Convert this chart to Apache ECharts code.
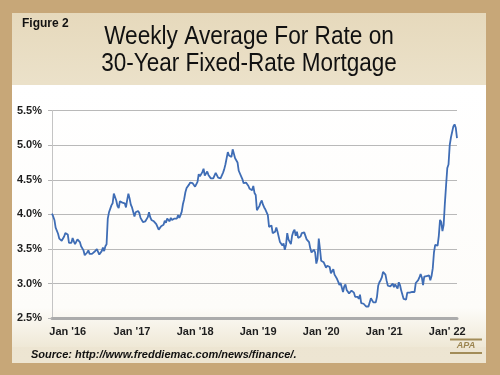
<!DOCTYPE html>
<html>
<head>
<meta charset="utf-8">
<style>html,body{margin:0;padding:0;background:#c7a778;}#chart{width:500px;height:375px;}</style>
<script src="https://cdn.jsdelivr.net/npm/echarts@6/dist/echarts.min.js"></script>
</head>
<body>
<div id="chart"></div>
<script>
// Weekly 30-year fixed rate (%), starting week of Dec 31 2015
const rates2015 = [4.01];
const rates2016 = [3.97,3.92,3.81,3.79, 3.72,3.65,3.65,3.62, 3.64,3.68,3.73,3.71,3.71, 3.59,3.58,3.59,3.66, 3.61,3.57,3.58,3.64, 3.66,3.60,3.54,3.56,3.48, 3.41,3.42,3.45,3.48, 3.43,3.45,3.43,3.43, 3.46,3.44,3.50,3.48,3.42, 3.42,3.47,3.52,3.47, 3.54,3.57,3.94,4.03, 4.08,4.13,4.16,4.30,4.32];
const rates2017 = [4.20,4.12,4.09,4.19, 4.19,4.17,4.15,4.16, 4.10,4.21,4.30,4.23,4.14, 4.10,4.08,3.97,4.03, 4.02,4.05,4.02,3.95, 3.94,3.89,3.91,3.90,3.88, 3.96,4.03,3.96,3.92, 3.93,3.90,3.89,3.86,3.82, 3.78,3.78,3.83,3.83, 3.85,3.91,3.88,3.94, 3.94,3.90,3.95,3.92,3.90, 3.94,3.93,3.94,3.99];
const rates2018 = [3.95,3.99,4.04,4.15, 4.22,4.32,4.38,4.40, 4.43,4.46,4.44,4.45,4.44, 4.40,4.42,4.47,4.58, 4.55,4.55,4.61,4.66,4.56, 4.54,4.62,4.57,4.55, 4.52,4.53,4.52,4.54, 4.60,4.59,4.53,4.51,4.52, 4.54,4.60,4.65,4.72, 4.71,4.90,4.85,4.86, 4.83,4.94,4.94,4.81,4.81, 4.75,4.63,4.62,4.55];
const rates2019 = [4.51,4.45,4.45,4.46,4.46, 4.41,4.37,4.35,4.35, 4.41,4.31,4.28,4.06, 4.08,4.12,4.17,4.20, 4.14,4.10,4.07,4.06,3.99, 3.82,3.82,3.84,3.73, 3.75,3.75,3.81,3.75, 3.75,3.60,3.60,3.55,3.58, 3.49,3.56,3.73,3.64, 3.65,3.57,3.69,3.75,3.78, 3.69,3.75,3.66,3.68, 3.68,3.73,3.73,3.74];
const rates2020 = [3.72,3.64,3.65,3.60,3.51, 3.45,3.47,3.49,3.45, 3.29,3.36,3.65,3.50, 3.33,3.33,3.31,3.33,3.23, 3.26,3.28,3.24,3.15, 3.18,3.21,3.13,3.13, 3.07,3.03,2.98,3.01,2.99, 2.88,2.96,2.99,2.91, 2.93,2.86,2.87,2.90, 2.88,2.87,2.81,2.80,2.81, 2.78,2.84,2.72,2.72, 2.71,2.71,2.67,2.66,2.67];
const rates2021 = [2.65,2.79,2.77,2.73, 2.73,2.73,2.81,2.97, 3.02,3.05,3.09,3.17, 3.18,3.13,3.04,2.97,2.98, 2.96,2.94,3.00,2.95, 2.99,2.96,2.93,3.02, 2.98,2.90,2.88,2.78,2.80, 2.77,2.87,2.86,2.87, 2.87,2.88,2.86,2.88,3.01, 2.99,3.05,3.09,3.14, 3.09,2.98,3.10,3.10, 3.11,3.10,3.12,3.05,3.11];
const rates2022 = [3.22,3.45,3.56,3.55, 3.55,3.69,3.92,3.89, 3.76,3.85,4.16,4.42,4.67, 4.72,5.00,5.11,5.10, 5.27,5.30,5.25,5.10];

const xTickLabels = ["Jan '16","Jan '17","Jan '18","Jan '19","Jan '20","Jan '21","Jan' 22"];
const xTickIndex = [13, 66, 118, 170, 222, 274, 326];
const yTicks = [2.5, 3.0, 3.5, 4.0, 4.5, 5.0, 5.5];

const rates = [].concat(rates2015, rates2016, rates2017, rates2018, rates2019, rates2020, rates2021, rates2022);
const weeks = [];
const start = Date.UTC(2015, 11, 31);
for (let i = 0; i < rates.length; i++) {
  const d = new Date(start + i * 7 * 86400000);
  weeks.push(d.toISOString().slice(0, 10));
}

const chart = echarts.init(document.getElementById('chart'), null, {renderer: 'canvas'});
const option = {
  animation: false,
  backgroundColor: '#c7a778',
  grid: {left: 52, right: 43, top: 110.5, bottom: 56.7, containLabel: false},
  xAxis: {
    type: 'category',
    data: weeks,
    boundaryGap: false,
    axisLine: {show: true, lineStyle: {color: '#ababab', width: 3}},
    axisTick: {show: false},
    splitLine: {show: false},
    axisLabel: {
      interval: function (idx) { return xTickIndex.indexOf(idx) >= 0; },
      formatter: function (v, idx) { const k = xTickIndex.indexOf(idx); return k >= 0 ? xTickLabels[k] : ''; },
      hideOverlap: false,
      margin: 8,
      color: '#1e1e1e', fontFamily: 'Liberation Sans, Arial, sans-serif', fontWeight: 'bold', fontSize: 11
    }
  },
  yAxis: {
    type: 'value',
    min: yTicks[0], max: yTicks[yTicks.length - 1], interval: 0.5,
    axisLine: {show: true, lineStyle: {color: '#c4c4c4', width: 1}},
    axisTick: {show: true, length: 4, lineStyle: {color: '#b5b5b5'}},
    splitLine: {show: true, lineStyle: {color: '#b9b9b9', width: 1}},
    axisLabel: {
      margin: 10,
      formatter: function (v) { return v.toFixed(1) + '%'; },
      color: '#1e1e1e', fontFamily: 'Liberation Sans, Arial, sans-serif', fontWeight: 'bold', fontSize: 11
    }
  },
  series: [{
    type: 'line',
    data: rates,
    showSymbol: false,
    symbol: 'none',
    lineStyle: {color: '#3f6db5', width: 1.8},
    z: 5
  }],
  graphic: [
    {type: 'rect', z: -20, shape: {x: 12, y: 13, width: 474, height: 350},
      style: {fill: new echarts.graphic.LinearGradient(0, 0, 0, 1, [
        {offset: 0, color: '#e6d9bc'}, {offset: 0.2, color: '#ebe1c9'}, {offset: 1, color: '#ede5d2'}])}},
    {type: 'rect', z: -19, shape: {x: 12, y: 85, width: 474, height: 262},
      style: {fill: new echarts.graphic.LinearGradient(0, 0, 0, 1, [
        {offset: 0, color: '#ffffff'}, {offset: 0.85, color: '#fdfcf9'}, {offset: 1, color: '#efe8d6'}])}},
    {type: 'text', z: 10, x: 22, y: 23.5,
      style: {text: 'Figure 2', fill: '#111', font: 'bold 12px "Liberation Sans", Arial, sans-serif', textAlign: 'left', textVerticalAlign: 'middle'}},
    {type: 'text', z: 10, x: 249, y: 37, scaleX: 0.905,
      style: {text: 'Weekly Average For Rate on', fill: '#111', font: '25px "Liberation Sans", Arial, sans-serif', textAlign: 'center', textVerticalAlign: 'middle'}},
    {type: 'text', z: 10, x: 249, y: 64, scaleX: 0.9,
      style: {text: '30-Year Fixed-Rate Mortgage', fill: '#111', font: '25px "Liberation Sans", Arial, sans-serif', textAlign: 'center', textVerticalAlign: 'middle'}},
    {type: 'text', z: 10, x: 31, y: 354.5,
      style: {text: 'Source: http://www.freddiemac.com/news/finance/.', fill: '#111', font: 'italic bold 11px "Liberation Sans", Arial, sans-serif', textAlign: 'left', textVerticalAlign: 'middle'}},
    {type: 'rect', z: 10, shape: {x: 450, y: 338.5, width: 32, height: 2}, style: {fill: '#a28c58'}},
    {type: 'rect', z: 10, shape: {x: 450, y: 352, width: 32, height: 2}, style: {fill: '#a28c58'}},
    {type: 'text', z: 10, x: 466, y: 346,
      style: {text: 'APA', fill: '#9c8550', font: 'italic bold 9px "Liberation Sans", Arial, sans-serif', textAlign: 'center', textVerticalAlign: 'middle'}}
  ]
};
chart.setOption(option);
</script>
</body>
</html>
